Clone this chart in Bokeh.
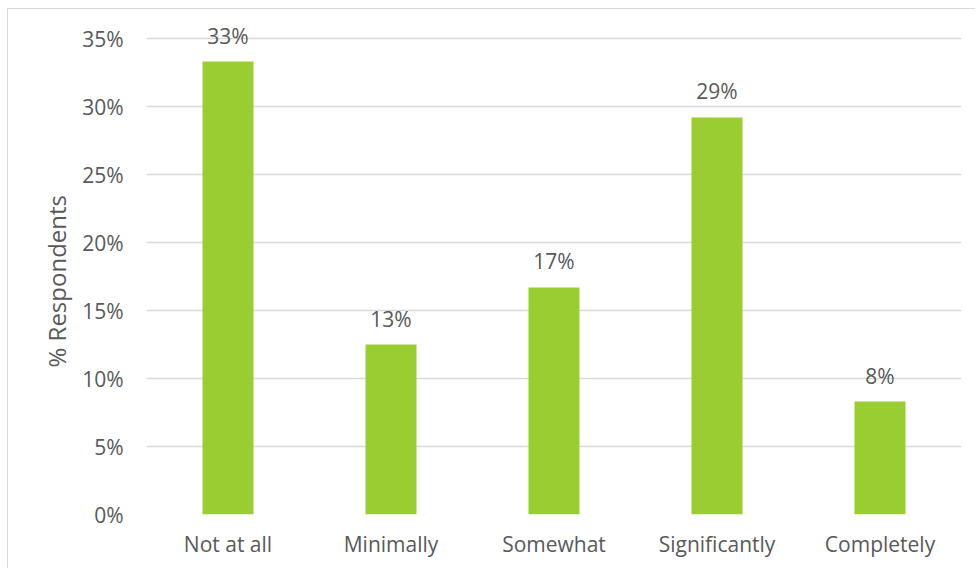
from bokeh.plotting import figure
from bokeh.models import Range1d, FixedTicker, NumeralTickFormatter, ColumnDataSource, Title
from bokeh.core.properties import value
from bokeh.embed import file_html
from bokeh.resources import INLINE

categories = ["Not at all", "Minimally", "Somewhat", "Significantly", "Completely"]
shares = [0.333, 0.125, 0.167, 0.292, 0.083]
share_labels = ["33%", "13%", "17%", "29%", "8%"]
y_ticks = [0.0, 0.05, 0.10, 0.15, 0.20, 0.25, 0.30, 0.35]
y_title = "% Respondents"

FONT = "Open Sans"
TEXT = "#595959"

frame_h = 502
y_end = 0.35 * frame_h / 476.0

src = ColumnDataSource(dict(cat=categories, val=shares, lab=share_labels))

p = figure(
    x_range=categories,
    y_range=Range1d(0, y_end),
    width=968, height=560,
    min_border_left=138, min_border_right=15,
    min_border_top=3, min_border_bottom=55,
    output_backend="svg", toolbar_location=None,
    margin=(8, 0, 0, 7),
)
p.styles = {"border-top": "1px solid #d9d9d9", "border-left": "1px solid #d9d9d9"}
p.outline_line_color = None
p.background_fill_color = "white"
p.border_fill_color = "white"

p.vbar(x="cat", top="val", width=0.313, source=src, color="#9ACD32", line_color=None)

p.text(x="cat", y="val", text="lab", source=src, text_align="center",
       text_baseline="middle", y_offset=-26, text_font=value(FONT),
       text_font_size="21px", text_color=TEXT)

p.xgrid.visible = False
p.ygrid.ticker = FixedTicker(ticks=y_ticks)
p.ygrid.grid_line_color = "#d9d9d9"
p.ygrid.grid_line_width = 1.3

p.yaxis.ticker = FixedTicker(ticks=y_ticks)
p.yaxis.formatter = NumeralTickFormatter(format="0%")
for ax in (p.xaxis[0], p.yaxis[0]):
    ax.axis_line_color = None
    ax.major_tick_line_color = None
    ax.minor_tick_line_color = None
    ax.major_tick_out = 0
    ax.major_tick_in = 0
    ax.minor_tick_out = 0
    ax.major_label_text_font = FONT
    ax.major_label_text_font_size = "21px"
    ax.major_label_text_color = TEXT

p.xaxis.major_label_standoff = 15
p.yaxis.major_label_standoff = 23

side_title = Title(text=y_title, align="left", offset=147, standoff=14,
                   text_font=FONT, text_font_size="24px", text_font_style="normal",
                   text_color=TEXT)
p.add_layout(side_title, "left")

open("out.html", "w").write(file_html(p, INLINE))
